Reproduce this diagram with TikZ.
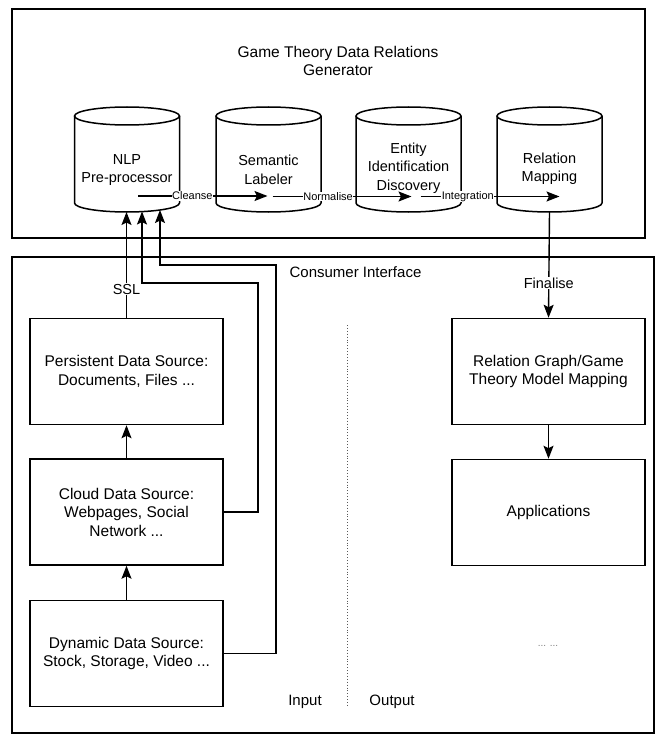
\documentclass[tikz,border=0pt]{standalone}
\usepackage{fontspec}
\setmainfont{Liberation Sans}
\usetikzlibrary{arrows.meta,calc}
\begin{document}
\begin{tikzpicture}[x=1pt,y=-1pt,
  container/.style={draw, line width=1.5pt, inner sep=0pt},
  box/.style={draw, line width=1.5pt, minimum width=193pt, minimum height=106pt, align=center, inner sep=0pt, font=\fontsize{15.5}{18.5}\selectfont},
  cylbox/.style={minimum width=105pt, minimum height=105pt, inner sep=0pt, outer sep=0pt},
  cylline/.style={line width=1.5pt},
  cyltext/.style={align=center, font=\fontsize{14.5}{18.5}\selectfont},
  conn/.style={line width=1.4pt, -{Stealth[length=13pt,width=10pt,inset=2.5pt]}},
  connthin/.style={line width=1.2pt, -{Stealth[length=13pt,width=10pt,inset=2.5pt]}},
  elabel/.style={fill=white, inner sep=0.5pt, font=\fontsize{11}{13}\selectfont},
  clabel/.style={fill=white, inner sep=1pt, font=\fontsize{14.5}{17}\selectfont},
  lbl/.style={font=\fontsize{15}{18}\selectfont}]
\useasboundingbox (0,0) rectangle (666,741);
\fill[white] (0,0) rectangle (666,741);

% containers
\node[container, minimum width=633pt, minimum height=229pt] (gen) at (328.5,123.5) {};
\node[container, minimum width=642pt, minimum height=476pt] (ci) at (333,495) {};
\node[align=center, font=\fontsize{15.5}{18}\selectfont] (title) at (338,61) {Game Theory Data Relations\\Generator};

% cylinders
\foreach \n/\c in {nlp/127, sem/268.5, ent/408.5, rel/549.5} {
  \node[cylbox] (\n) at (\c,159.5) {};
  \draw[cylline] ($(\n.north)+(0,9)$) ellipse [x radius=52.5, y radius=9];
  \draw[cylline] ($(\n.north west)+(0,9)$) -- ($(\n.south west)+(0,-9)$)
     arc [start angle=180, end angle=0, x radius=52.5, y radius=9]
     -- ($(\n.north east)+(0,9)$);
}
\node[cyltext] (nlpt) at (127,170) {NLP\\Pre-processor};
\node[cyltext] (semt) at (268.5,170) {Semantic\\Labeler};
\node[cyltext] (entt) at (408.5,168) {Entity\\Identification\\Discovery};
\node[cyltext] (relt) at (549.5,169) {Relation\\Mapping};

% pipeline arrows
\draw[conn] ($(nlp.center)+(11,36.5)$) -- ($(sem.center)+(-1,36.5)$) node[elabel, pos=0.42] {Cleanse};
\draw[conn] ($(sem.center)+(4,37)$) -- ($(ent.center)+(3,37)$) node[elabel, pos=0.40] {Normalise};
\draw[conn] ($(ent.center)+(12,37)$) -- ($(rel.center)+(10,37)$) node[elabel, pos=0.34] {Integration};

% input boxes
\node[box] (pers) at (126.5,371.5) {Persistent Data Source:\\Documents, Files ...};
\node[box] (cloud) at (126.5,512) {Cloud Data Source:\\Webpages, Social\\Network ...};
\node[box] (dyn) at (126.5,653.5) {Dynamic Data Source:\\Stock, Storage, Video ...};

% output boxes
\node[box] (rg) at (548.5,371.5) {Relation Graph/Game\\Theory Model Mapping};
\node[box] (app) at (548.5,512.5) {Applications};
\node[font=\fontsize{10}{12}\selectfont, text=gray] (dots) at (548,646) {... ...};

% input connectors
\draw[conn] (dyn.north) -- (cloud.south);
\draw[conn] (cloud.north) -- (pers.south);
\draw[conn] (pers.north) -- (pers.north |- nlp.south) node[clabel, pos=0.27] {SSL};
\draw[connthin] (cloud.east) -| (258,283) -| ($(nlp.south)+(15,-0.5)$);
\draw[connthin] (dyn.east) -| (276,265) -| ($(nlp.south)+(33,-2)$);

% output connectors
\draw[conn] (rel.south) -- (rg.north) node[clabel, pos=0.67] {Finalise};
\draw[conn] (rg.south) -- (app.north);

% labels and divider
\node[lbl] (cons) at (355.5,272) {Consumer Interface};
\draw[dotted, line width=0.9pt, gray!70!black] (347,325) -- (347,707);
\node[lbl] (inp) at (305,702) {Input};
\node[lbl] (outp) at (392,702) {Output};
\end{tikzpicture}
\end{document}
